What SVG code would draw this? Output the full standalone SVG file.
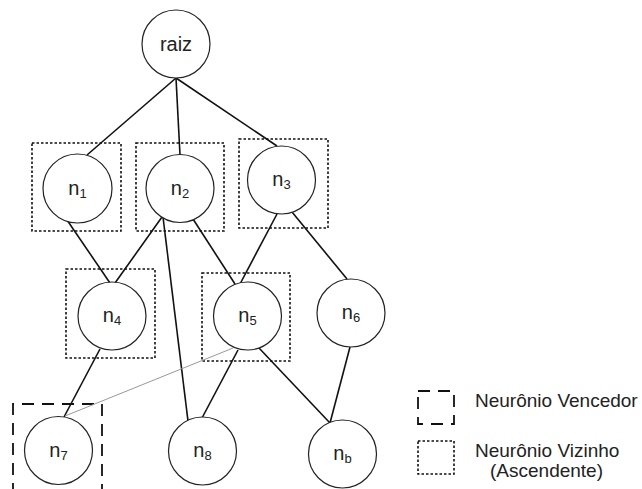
<svg xmlns="http://www.w3.org/2000/svg" width="642" height="489" viewBox="0 0 642 489">
  <style>
    .node circle { fill: #fff; stroke: #222; stroke-width: 1.2; }
    .lbl { font-family: "Liberation Sans", Arial, sans-serif; font-size: 20px; fill: #222; text-anchor: middle; }
    .sub { font-size: 13px; }
    .edge { stroke: #111; stroke-width: 1.6; fill: none; }
    .thin { stroke: #999; stroke-width: 1; fill: none; }
    .neigh { fill: none; stroke: #111; stroke-width: 1.6; stroke-dasharray: 2.5 2; }
    .winner { fill: none; stroke: #111; stroke-width: 1.8; stroke-dasharray: 12 8; }
    .legend { font-family: "Liberation Sans", Arial, sans-serif; font-size: 19px; fill: #222; }
  </style>
  <rect width="642" height="489" fill="#fff"/>

  <!-- neighbourhood and winner boxes -->
  <g id="boxes">
    <rect class="neigh" x="32" y="143" width="89" height="88"/>
    <rect class="neigh" x="136" y="143" width="88" height="88"/>
    <rect class="neigh" x="239" y="139" width="89" height="89"/>
    <rect class="neigh" x="66" y="269" width="89" height="89"/>
    <rect class="neigh" x="202" y="273" width="88" height="88"/>
    <path class="winner" d="M13 495 V404 H102 V495"/>
  </g>

  <!-- connectors -->
  <g id="connectors">
    <line class="edge" x1="176" y1="78" x2="87" y2="155"/>
    <line class="edge" x1="176" y1="78" x2="180" y2="155"/>
    <line class="edge" x1="176" y1="78" x2="277" y2="146"/>
    <line class="edge" x1="67" y1="220" x2="110" y2="283"/>
    <line class="edge" x1="162" y1="217" x2="115" y2="283"/>
    <line class="edge" x1="163" y1="217" x2="188" y2="421"/>
    <line class="edge" x1="193" y1="219" x2="235" y2="284"/>
    <line class="edge" x1="277" y1="214" x2="240" y2="284"/>
    <line class="edge" x1="292" y1="212" x2="347" y2="279"/>
    <line class="edge" x1="100" y1="349" x2="64" y2="417"/>
    <line class="thin" x1="65" y1="416" x2="233" y2="348"/>
    <line class="edge" x1="238" y1="350" x2="202" y2="418"/>
    <line class="edge" x1="259" y1="348" x2="330" y2="423"/>
    <line class="edge" x1="350" y1="347" x2="330" y2="423"/>
  </g>

  <!-- nodes -->
  <g id="raiz" class="node"><circle cx="176" cy="44" r="34"/><text class="lbl" x="176" y="51">raiz</text></g>
  <g id="n1" class="node"><circle cx="77.5" cy="188.5" r="34.5"/><text class="lbl" x="77.5" y="195">n<tspan class="sub" dy="3">1</tspan></text></g>
  <g id="n2" class="node"><circle cx="180" cy="188.5" r="34"/><text class="lbl" x="180" y="195">n<tspan class="sub" dy="3">2</tspan></text></g>
  <g id="n3" class="node"><circle cx="281.5" cy="180" r="34"/><text class="lbl" x="281.5" y="186">n<tspan class="sub" dy="3">3</tspan></text></g>
  <g id="n4" class="node"><circle cx="112" cy="316" r="34"/><text class="lbl" x="112" y="322">n<tspan class="sub" dy="3">4</tspan></text></g>
  <g id="n5" class="node"><circle cx="247.5" cy="316" r="34"/><text class="lbl" x="247.5" y="322">n<tspan class="sub" dy="3">5</tspan></text></g>
  <g id="n6" class="node"><circle cx="351" cy="313" r="34"/><text class="lbl" x="351" y="319">n<tspan class="sub" dy="3">6</tspan></text></g>
  <g id="n7" class="node"><circle cx="58.5" cy="450.5" r="34"/><text class="lbl" x="58.5" y="457">n<tspan class="sub" dy="3">7</tspan></text></g>
  <g id="n8" class="node"><circle cx="202.5" cy="451" r="34"/><text class="lbl" x="202.5" y="457">n<tspan class="sub" dy="3">8</tspan></text></g>
  <g id="nb" class="node"><circle cx="342.5" cy="454" r="34"/><text class="lbl" x="342.5" y="460">n<tspan class="sub" dy="3">b</tspan></text></g>

  <!-- legend -->
  <g id="legend">
    <rect class="winner" x="418" y="391" width="36" height="33" stroke-dasharray="10 8"/>
    <text class="legend" x="475" y="407">Neurônio Vencedor</text>
    <rect class="neigh" x="418" y="441" width="36" height="33"/>
    <text class="legend" x="475" y="457">Neurônio Vizinho</text>
    <text class="legend" x="490" y="477">(Ascendente)</text>
  </g>
</svg>
